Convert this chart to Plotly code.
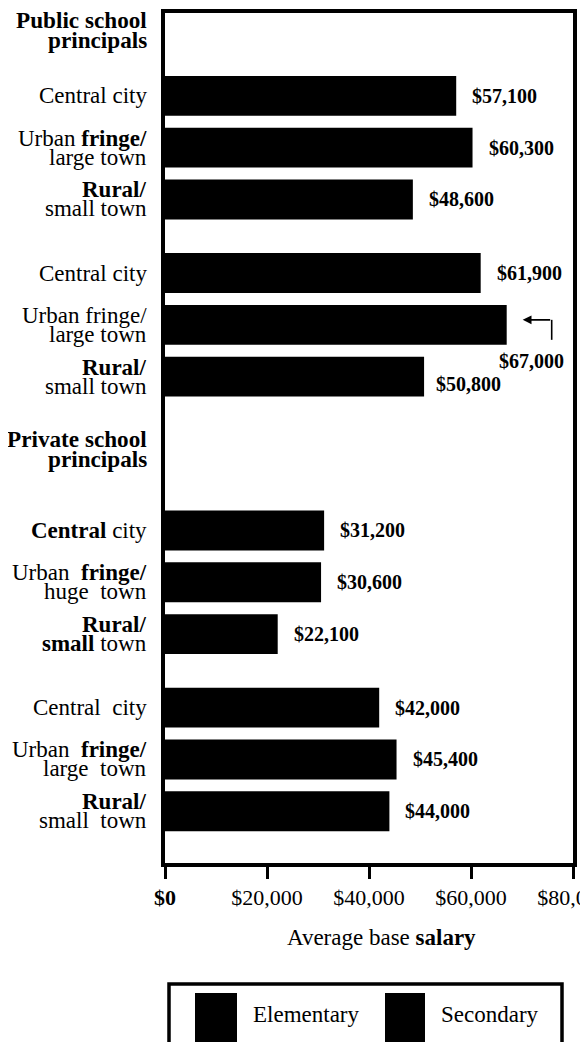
import plotly.graph_objects as go

# ---------------- data ----------------
sectors = ["Public school", "Private school"]
levels = ["Elementary", "Secondary"]

public_elementary = [57100, 60300, 48600]
public_secondary = [61900, 67000, 50800]
private_elementary = [31200, 30600, 22100]
private_secondary = [42000, 45400, 44000]

# row labels (one list of text lines per bar, top to bottom)
row_labels = [
    ["Central city"],
    ["Urban <b>fringe/</b>", "large town"],
    ["<b>Rural/</b>", "small town"],
    ["Central city"],
    ["Urban fringe/", "large town"],
    ["<b>Rural/</b>", "small town"],
    ["<b>Central</b> city"],
    ["Urban  <b>fringe/</b>", "huge  town"],
    ["<b>Rural/</b>", "<b>small</b> town"],
    ["Central  city"],
    ["Urban  <b>fringe/</b>", "large  town"],
    ["<b>Rural/</b>", "small  town"],
]

tick_values = [0, 20000, 40000, 60000, 80000]
tick_labels = ["$0", "$20,000", "$40,000", "$60,000", "$80,000"]
x_title = "Average base salary"

# ---------------- layout geometry ----------------
BODY = 8                         # default page margin of the html body
PAGE_W, PAGE_H = 588, 1042
W, H = PAGE_W - BODY, PAGE_H - BODY
L_PAGE, T_PAGE = 165, 13         # plot-area corner on the page
ML, MT = L_PAGE - BODY, T_PAGE - BODY
MR, MB = 15, 179
PW, PH = W - ML - MR, H - MT - MB
SLOT = 51.8                      # pixels per bar slot
FONT = "Liberation Serif, Times New Roman, serif"

def px_x(px):
    return (px - L_PAGE) / PW

def px_y(py):
    return (T_PAGE + PH - py) / PH

# slot positions of the 12 bars
positions = []
p = 1.6
for si in range(2):
    for li in range(2):
        for k in range(3):
            positions.append(p)
            p += 1
        p += 0.42 if li == 0 else 1.97

values_all = public_elementary + public_secondary + private_elementary + private_secondary

fig = go.Figure()
fig.add_trace(go.Bar(
    name=levels[0], orientation="h",
    x=public_elementary + private_elementary,
    y=positions[0:3] + positions[6:9],
    width=0.77, marker=dict(color="black", line=dict(width=0)),
    showlegend=False, hoverinfo="skip",
))
fig.add_trace(go.Bar(
    name=levels[1], orientation="h",
    x=public_secondary + private_secondary,
    y=positions[3:6] + positions[9:12],
    width=0.77, marker=dict(color="black", line=dict(width=0)),
    showlegend=False, hoverinfo="skip",
))

annotations = []

# left row labels
for pos, lines in zip(positions, row_labels):
    shifts = [0] if len(lines) == 1 else [9.5, -9.5]
    for txt, ys in zip(lines, shifts):
        annotations.append(dict(
            x=0, xref="paper", y=pos, yref="y", xanchor="right", yanchor="middle",
            xshift=-16, yshift=ys, text=txt, showarrow=False,
            font=dict(family=FONT, size=23, color="black"),
        ))

# sector headers
for si, sector in enumerate(sectors):
    first = positions[si * 6]
    base = 75.5 if si == 0 else 91
    for txt, ys in zip([sector, "principals"], [base, base - 19.5]):
        annotations.append(dict(
            x=0, xref="paper", y=first, yref="y", xanchor="right", yanchor="middle",
            xshift=-16, yshift=ys, text=f"<b>{txt}</b>", showarrow=False,
            font=dict(family=FONT, size=23.2, color="black"),
        ))

# value labels
max_val = max(values_all)
i_max = values_all.index(max_val)
for i, (pos, v) in enumerate(zip(positions, values_all)):
    label = f"<b>${v:,}</b>"
    if i == i_max:
        annotations.append(dict(
            x=v, xref="x", y=pos, yref="y", xanchor="left", yanchor="middle",
            xshift=-10, yshift=-36, text=label, showarrow=False,
            font=dict(family=FONT, size=20, color="black"),
        ))
        annotations.append(dict(
            x=v, xref="x", y=pos, yref="y", xshift=16, yshift=5,
            text="", showarrow=True, ax=29, ay=0,
            arrowhead=2, arrowsize=1.1, arrowwidth=1.6, arrowcolor="black",
        ))
    else:
        annotations.append(dict(
            x=v, xref="x", y=pos, yref="y", xanchor="left", yanchor="middle",
            xshift=10 if i == i_max + 1 else 14,
            yshift=-7 if i == i_max + 1 else 0,
            text=label, showarrow=False,
            font=dict(family=FONT, size=20, color="black"),
        ))

# x-axis title
annotations.append(dict(
    x=px_x(381), xref="paper", y=px_y(937), yref="paper",
    xanchor="center", yanchor="middle", text=x_title.replace("salary", "<b>salary</b>"),
    showarrow=False,
    font=dict(family=FONT, size=23, color="black"),
))

shapes = []
# vertical part of the elbow arrow
shapes.append(dict(
    type="line", xref="x", yref="y",
    xsizemode="pixel", xanchor=max_val, x0=45, x1=45,
    ysizemode="pixel", yanchor=positions[i_max], y0=5, y1=-15,
    line=dict(color="black", width=1.6),
))

# legend box
shapes.append(dict(
    type="rect", xref="paper", yref="paper",
    x0=px_x(169), x1=px_x(562), y0=px_y(984), y1=px_y(1060),
    line=dict(color="black", width=3.5), fillcolor="white", layer="above",
))
legend_items = [(levels[0], 195, 237, 306), (levels[1], 385, 425, 490)]
for name, sx0, sx1, tx in legend_items:
    shapes.append(dict(
        type="rect", xref="paper", yref="paper",
        x0=px_x(sx0), x1=px_x(sx1), y0=px_y(993), y1=px_y(1045),
        line=dict(width=0), fillcolor="black", layer="above",
    ))
    annotations.append(dict(
        x=px_x(tx), xref="paper", y=px_y(1015), yref="paper",
        xanchor="center", yanchor="middle", text=name, showarrow=False,
        font=dict(family=FONT, size=23, color="black"),
    ))

fig.update_layout(
    width=W, height=H,
    margin=dict(l=ML, r=MR, t=MT, b=MB, pad=0, autoexpand=False),
    paper_bgcolor="white", plot_bgcolor="white",
    barmode="overlay",
    showlegend=False,
    annotations=annotations,
    shapes=shapes,
    xaxis=dict(
        range=[0, 80000], tickvals=tick_values,
        ticktext=[f"<b>{t}</b>" if t == "$0" else t for t in tick_labels],
        showline=True, linewidth=4, linecolor="black", mirror=True,
        ticks="outside", ticklen=12, tickwidth=3, tickcolor="black",
        showgrid=False, zeroline=False, ticklabeloverflow="allow",
        automargin=False,
        tickfont=dict(family=FONT, size=22, color="black"),
    ),
    yaxis=dict(
        range=[PH / SLOT, 0], automargin=False,
        showline=True, linewidth=4, linecolor="black", mirror=True,
        showticklabels=False, ticks="", showgrid=False, zeroline=False,
    ),
)

fig.write_html("out.html")
